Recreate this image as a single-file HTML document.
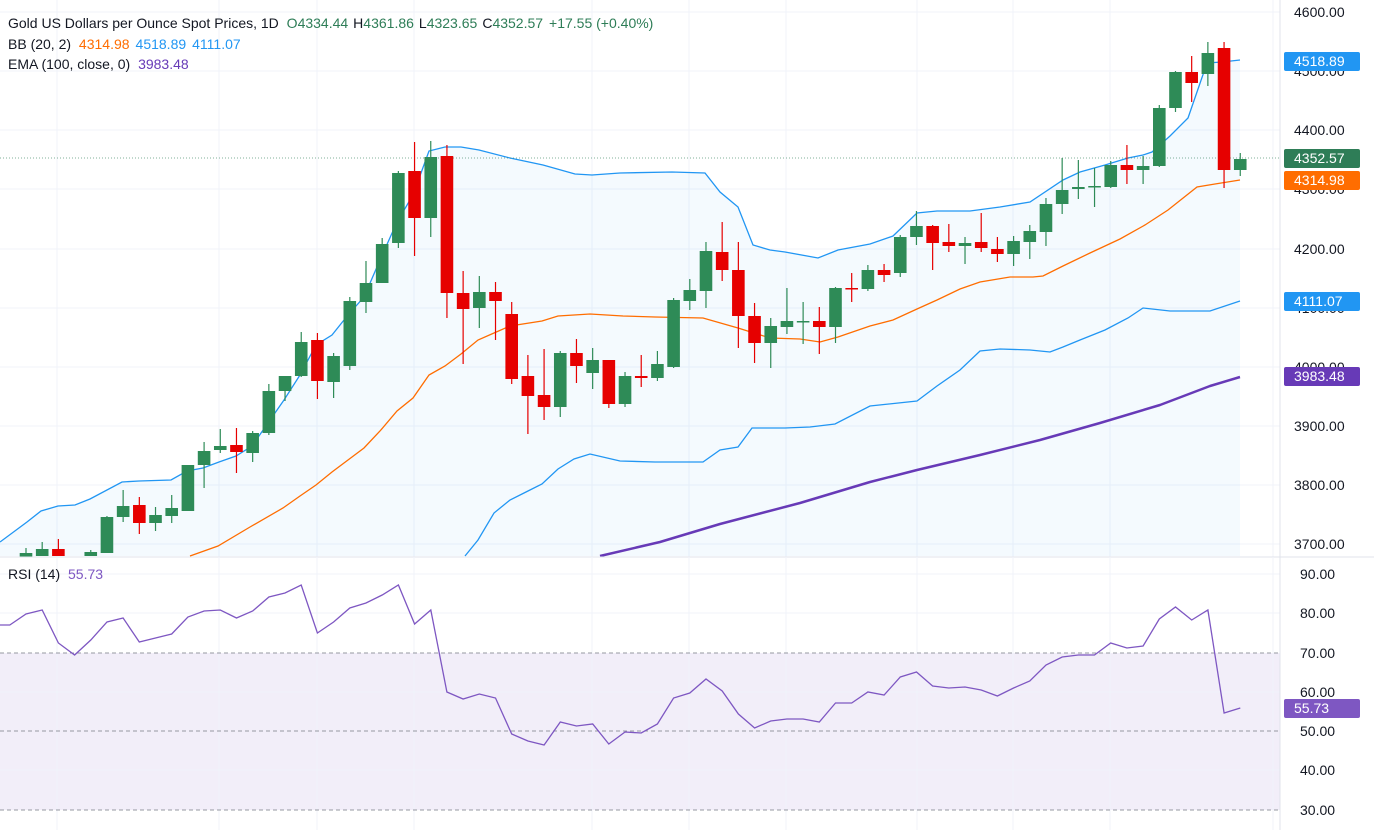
<!DOCTYPE html>
<html><head><meta charset="utf-8"><style>
html,body{margin:0;padding:0;background:#fff;width:1374px;height:830px;overflow:hidden}
svg{display:block;font-family:"Liberation Sans",sans-serif}
</style></head><body>
<svg id="s" width="1374" height="830" xmlns="http://www.w3.org/2000/svg">
<g id="grid"></g>
<polygon id="bbfill" fill="#2196f3" fill-opacity="0.05"/>
<polyline id="bbu" fill="none" stroke="#2196f3" stroke-width="1.3"/>
<polyline id="bbl" fill="none" stroke="#2196f3" stroke-width="1.3"/>
<polyline id="bbm" fill="none" stroke="#ff6d00" stroke-width="1.3"/>
<polyline id="ema" fill="none" stroke="#673ab7" stroke-width="2.5" stroke-linejoin="round"/>
<line x1="0" y1="158" x2="1280" y2="158" stroke="#2e7d57" stroke-width="1" stroke-dasharray="1 2" opacity="0.6"/>
<g id="cnd"></g>
<rect x="0" y="557" width="1374" height="273" fill="#fff"/>
<line x1="0" y1="557" x2="1374" y2="557" stroke="#e0e3eb"/>
<rect x="0" y="653" width="1280" height="157" fill="#7e57c2" fill-opacity="0.1"/>
<g id="grid2"></g>
<line x1="0" y1="653" x2="1280" y2="653" stroke="#9598a1" stroke-dasharray="4 3"/>
<line x1="0" y1="731" x2="1280" y2="731" stroke="#9598a1" stroke-dasharray="4 3"/>
<line x1="0" y1="810" x2="1280" y2="810" stroke="#9598a1" stroke-dasharray="4 3"/>
<polyline id="rsi" fill="none" stroke="#7e57c2" stroke-width="1.3"/>
<line x1="1280" y1="0" x2="1280" y2="830" stroke="#e0e3eb"/>
<g id="ax" font-size="14" fill="#131722"></g>
<g font-size="14" fill="#131722">
<text x="8" y="28">Gold US Dollars per Ounce Spot Prices, 1D <tspan fill="#2e7d57" dx="4">O</tspan><tspan fill="#2e7d57">4334.44</tspan><tspan dx="5">H</tspan><tspan fill="#2e7d57">4361.86</tspan><tspan dx="5">L</tspan><tspan fill="#2e7d57">4323.65</tspan><tspan dx="5">C</tspan><tspan fill="#2e7d57">4352.57</tspan><tspan dx="6" fill="#2e7d57">+17.55 (+0.40%)</tspan></text>
<text x="8" y="49">BB (20, 2) <tspan fill="#ff6d00" dx="4">4314.98</tspan><tspan fill="#2196f3" dx="6">4518.89</tspan><tspan fill="#2196f3" dx="6">4111.07</tspan></text>
<text x="8" y="69">EMA (100, close, 0) <tspan fill="#673ab7" dx="4">3983.48</tspan></text>
<text x="8" y="579">RSI (14) <tspan fill="#7e57c2" dx="4">55.73</tspan></text>
</g>
<g id="tags" font-size="14"></g>
</svg>
<script>
var NS="http://www.w3.org/2000/svg";
function el(p,t,a,txt){var e=document.createElementNS(NS,t);for(var k in a)e.setAttribute(k,a[k]);if(txt!=null)e.textContent=txt;document.getElementById(p).appendChild(e);return e;}
function pts(a){return a.map(function(p){return p[0]+","+p[1]}).join(" ");}
// grid
var vx=[57,219,317,414,592,689,786,917,1013,1110,1273];
vx.forEach(function(x){el("grid","line",{x1:x,y1:0,x2:x,y2:557,stroke:"#f0f3fa"});el("grid2","line",{x1:x,y1:557,x2:x,y2:830,stroke:"#f0f3fa"});});
var pl=[[4600,12],[4500,71],[4400,130],[4300,189],[4200,249],[4100,308],[4000,367],[3900,426],[3800,485],[3700,544]];
pl.forEach(function(p){el("grid","line",{x1:0,y1:p[1],x2:1280,y2:p[1],stroke:"#f0f3fa"});el("ax","text",{x:1294,y:p[1]+5},p[0].toFixed(2));});
var rl=[[90,574],[80,613],[70,653],[60,692],[50,731],[40,770],[30,810]];
rl.forEach(function(p){if(p[0]==80||p[0]==60||p[0]==40||p[0]==90)el("grid2","line",{x1:0,y1:p[1],x2:1280,y2:p[1],stroke:"#f0f3fa"});el("ax","text",{x:1300,y:p[1]+5},p[0].toFixed(2));});
// bands
var U=[[0,542],[27,522],[41,511],[58,506],[75,505],[90,499],[122,482],[139,481],[171,480],[187,471],[203,468],[219,462],[236,456],[252,446],[268,423],[284,400],[300,375],[316,345],[332,335],[348,315],[364,297],[380,260],[397,222],[413,195],[429,151],[445,147],[461,147],[479,150],[510,158],[543,165],[575,174],[592,175],[620,173],[672,172],[705,173],[720,192],[738,207],[753,245],[770,250],[785,252],[818,258],[838,250],[870,244],[893,236],[917,213],[937,211],[970,211],[1000,207],[1030,202],[1063,180],[1080,172],[1105,165],[1128,158],[1143,155],[1152,152],[1170,136],[1188,118],[1207,63],[1222,62],[1240,60]];
var L=[[465,556],[478,540],[494,513],[510,500],[526,492],[542,484],[558,469],[574,459],[590,454],[620,461],[655,462],[703,462],[720,450],[738,447],[752,428],[785,428],[810,427],[835,424],[870,406],[917,401],[937,386],[960,370],[980,351],[1000,349],[1030,350],[1050,352],[1063,347],[1080,340],[1105,330],[1128,318],[1143,308],[1170,311],[1210,311],[1240,301]];
var M=[[190,556],[218,546],[250,527],[283,508],[300,496],[316,485],[332,472],[348,460],[364,448],[380,431],[397,411],[413,398],[429,375],[445,366],[461,354],[478,340],[494,333],[510,326],[542,321],[558,316],[590,314],[623,316],[655,317],[703,318],[738,328],[770,338],[800,339],[820,342],[838,337],[870,326],[893,320],[917,309],[937,300],[960,289],[980,282],[1010,277],[1033,277],[1043,276],[1063,266],[1090,253],[1120,239],[1145,225],[1168,210],[1197,187],[1215,184],[1240,180]];
var E=[[600,556],[660,542],[720,524],[800,503],[870,482],[917,470],[980,455],[1040,440],[1100,423],[1160,405],[1210,386],[1240,377]];
document.getElementById("bbu").setAttribute("points",pts(U));
document.getElementById("bbl").setAttribute("points",pts(L));
document.getElementById("bbm").setAttribute("points",pts(M));
document.getElementById("ema").setAttribute("points",pts(E));
var F=U.concat([[1240,556],[0,556]]);
document.getElementById("bbfill").setAttribute("points",pts(F));
// candles: [top,bottom,high,low,color]
var C=[[553,558,548,560,"g"],[549,556,542,556,"g"],[549,556,539,556,"r"],null,[552,556,550,556,"g"],[517,553,516,553,"g"],[506,517,490,522,"g"],[505,523,497,534,"r"],[515,523,507,531,"g"],[508,516,495,523,"g"],[465,511,465,511,"g"],[451,465,442,488,"g"],[446,450,429,453,"g"],[445,452,428,473,"r"],[433,453,431,462,"g"],[391,433,384,435,"g"],[376,391,376,401,"g"],[342,376,332,377,"g"],[340,381,333,399,"r"],[356,382,353,398,"g"],[301,366,297,370,"g"],[283,302,261,313,"g"],[244,283,238,283,"g"],[173,243,171,248,"g"],[171,218,142,256,"r"],[157,218,141,237,"g"],[156,293,145,318,"r"],[293,309,271,364,"r"],[292,308,276,328,"g"],[292,301,282,340,"r"],[314,379,302,384,"r"],[376,396,355,434,"r"],[395,407,349,420,"r"],[353,407,351,417,"g"],[353,366,339,383,"r"],[360,373,348,389,"g"],[360,404,360,408,"r"],[376,404,372,407,"g"],[376,378,355,387,"r"],[364,378,351,381,"g"],[300,367,298,368,"g"],[290,301,279,310,"g"],[251,291,242,308,"g"],[252,270,222,281,"r"],[270,316,242,348,"r"],[316,343,303,363,"r"],[326,343,318,368,"g"],[321,327,288,334,"g"],[321,322,302,344,"g"],[321,327,307,354,"r"],[288,327,287,343,"g"],[288,289,273,302,"r"],[270,289,265,291,"g"],[270,275,264,282,"r"],[237,273,235,277,"g"],[226,237,211,245,"g"],[226,243,225,270,"r"],[242,246,224,252,"r"],[243,246,237,264,"g"],[242,248,213,252,"r"],[249,254,237,262,"r"],[241,254,236,266,"g"],[231,242,225,259,"g"],[204,232,198,246,"g"],[190,204,158,214,"g"],[187,189,160,199,"g"],[186,187,168,207,"g"],[165,187,161,188,"g"],[165,170,145,184,"r"],[166,170,156,184,"g"],[108,166,105,167,"g"],[72,108,71,112,"g"],[72,83,56,102,"r"],[53,74,42,86,"g"],[48,170,42,188,"r"],[159,170,153,176,"g"]];
C.forEach(function(c,i){if(!c)return;var x=26+16.19*i;var col=c[4]=="g"?"#2e8b57":"#e60000";
el("cnd","line",{x1:x,y1:c[2],x2:x,y2:c[3],stroke:col,"stroke-width":1.2});
var h=Math.max(c[1]-c[0],1.5);el("cnd","rect",{x:x-6.3,y:c[0],width:12.6,height:h,fill:col});});
// rsi
var R=[625,614,610,643,655,640,622,618,642,638,634,617,611,610,618,611,597,593,585,633,622,608,603,595,585,624,610,692,699,694,698,734,741,745,722,726,724,744,732,733,724,698,693,679,691,714,728,721,719,719,722,703,703,692,695,677,672,686,688,687,690,696,688,681,665,657,655,655,643,648,646,619,607,620,610,713,708];
var rp=[[0,625]];R.forEach(function(y,i){rp.push([ (26+16.19*(i-1)).toFixed(1),y]);});
rp=rp.filter(function(p){return p[0]>=0});
document.getElementById("rsi").setAttribute("points",pts(rp));
// tags
function tag(y,bg,t){el("tags","rect",{x:1284,y:y-9,width:76,height:19,rx:2,fill:bg});el("tags","text",{x:1294,y:y+5,fill:"#fff"},t);}
tag(61,"#2196f3","4518.89");tag(158,"#2e7d57","4352.57");tag(180,"#ff6d00","4314.98");tag(301,"#2196f3","4111.07");tag(376,"#673ab7","3983.48");tag(708,"#7e57c2","55.73");
</script>
</body></html>
